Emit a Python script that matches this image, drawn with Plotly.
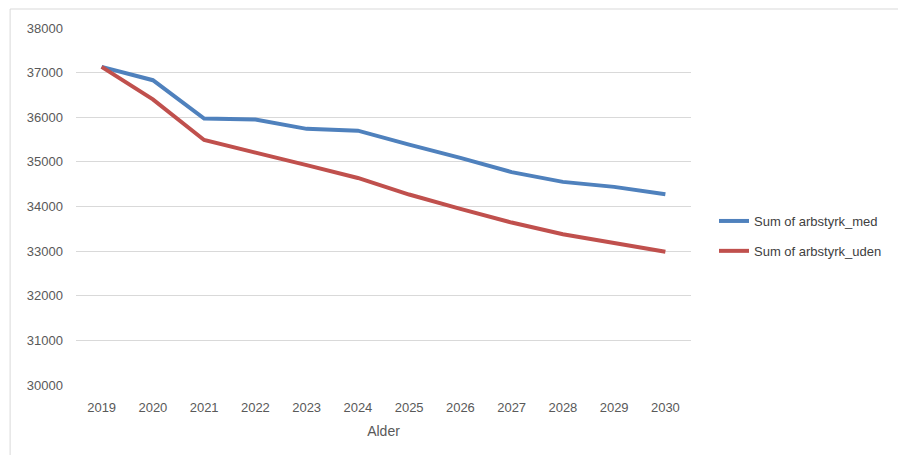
import plotly.graph_objects as go

years = ["2019", "2020", "2021", "2022", "2023", "2024", "2025", "2026", "2027", "2028", "2029", "2030"]
arbstyrk_med = [37130, 36830, 35970, 35950, 35740, 35700, 35385, 35090, 34770, 34552, 34440, 34275]
arbstyrk_uden = [37130, 36400, 35490, 35217, 34926, 34640, 34268, 33948, 33640, 33378, 33172, 32986]
series_names = ["Sum of arbstyrk_med", "Sum of arbstyrk_uden"]
y_ticks = [30000, 31000, 32000, 33000, 34000, 35000, 36000, 37000, 38000]

W, H = 898, 455
L, R, T, B = 76, 692, 28, 385

fig = go.Figure()
fig.add_trace(go.Scatter(x=years, y=arbstyrk_med, name=series_names[0], mode="lines",
                         line=dict(color="#4F81BD", width=4), legendgroup="a"))
fig.add_trace(go.Scatter(x=years, y=arbstyrk_uden, name=series_names[1], mode="lines",
                         line=dict(color="#C0504D", width=4), legendgroup="b"))

pw, ph = R - L, B - T
fig.add_shape(type="rect", xref="paper", yref="paper",
              x0=(10 - L) / pw, x1=(910 - L) / pw,
              y0=(B - 470) / ph, y1=(B - 9) / ph,
              line=dict(color="#D9D9D9", width=1), fillcolor="rgba(0,0,0,0)", layer="below")

fig.update_layout(
    width=W, height=H,
    margin=dict(l=L, r=W - R, t=T, b=H - B, pad=0),
    paper_bgcolor="white", plot_bgcolor="white",
    font=dict(family="Liberation Sans, Arial, sans-serif", color="#595959", size=13),
    showlegend=True,
    legend=dict(x=(714 - L) / pw, xanchor="left", y=(B - 236) / ph, yanchor="middle",
                font=dict(size=13, color="#404040"), tracegroupgap=10,
                traceorder="grouped", bgcolor="rgba(0,0,0,0)", itemwidth=30),
    xaxis=dict(type="category", range=[-0.5, len(years) - 0.5], showgrid=False,
               showline=False, zeroline=False,
               tickfont=dict(size=13, color="#595959"), ticks="", ticklabelstandoff=13,
               title=dict(text="Alder", font=dict(size=14, color="#595959"), standoff=12)),
    yaxis=dict(range=[30000, 38000], tickvals=y_ticks, showgrid=True, gridcolor="#D9D9D9",
               gridwidth=1, zeroline=False, showline=False, ticks="",
               tickfont=dict(size=13, color="#595959"), ticklabelstandoff=12,
               tickformat="d"),
)

fig.write_html("out.html")
